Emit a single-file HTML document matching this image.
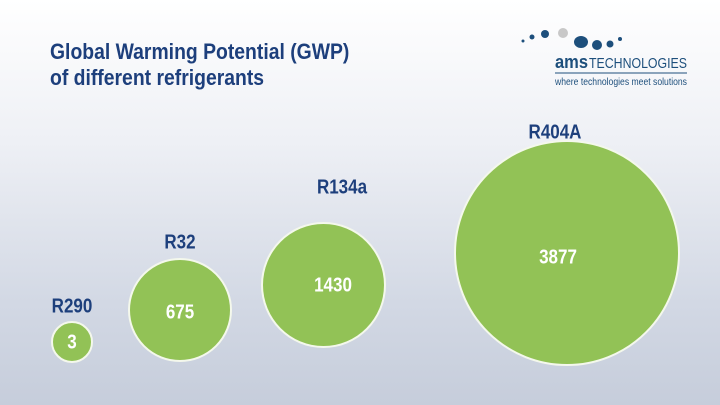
<!DOCTYPE html>
<html><head><style>
body{margin:0;width:720px;height:405px;overflow:hidden;background:linear-gradient(180deg,#ffffff 0%,#eef0f5 35%,#d2d8e4 75%,#c6cddb 100%);font-family:"Liberation Sans",sans-serif;position:relative}
.t{position:absolute;color:#1d3f7c;font-weight:bold;transform-origin:0 0;transform:scaleX(0.88)}
.c{position:absolute;border-radius:50%;background:#92c256;border:2px solid #f4f8ec;box-sizing:border-box}
.l{position:absolute;transform:translate(-50%,-50%) scaleX(0.85);font-weight:bold;font-size:20px;color:#1d3f7c;white-space:nowrap}
.n{position:absolute;transform:translate(-50%,-50%) scaleX(0.85);font-weight:bold;font-size:20px;color:#fff}
</style></head><body>
<div class="t" style="left:50px;top:39px;font-size:22px;line-height:26px">Global Warming Potential (GWP)<br>of different refrigerants</div>
<svg style="position:absolute;left:515px;top:22px" width="180" height="70">
<circle cx="8" cy="19" r="1.5" fill="#1d4f7c"/><circle cx="17" cy="15" r="2.5" fill="#1d4f7c"/><circle cx="30" cy="12" r="4" fill="#1d4f7c"/><circle cx="48" cy="11" r="5" fill="#c8c8c8"/><ellipse cx="66" cy="20" rx="7" ry="6" fill="#1d4f7c"/><circle cx="82" cy="23" r="5" fill="#1d4f7c"/><circle cx="95" cy="22" r="3.5" fill="#1d4f7c"/><circle cx="105" cy="17" r="2" fill="#1d4f7c"/>
<text x="40" y="46" font-family="Liberation Sans" font-weight="bold" font-size="18" fill="#1d4f7c" textLength="33" lengthAdjust="spacingAndGlyphs">ams</text>
<text x="74" y="46" font-family="Liberation Sans" font-size="15" fill="#1d4f7c" textLength="98" lengthAdjust="spacingAndGlyphs">TECHNOLOGIES</text>
<line x1="40" y1="51" x2="172" y2="51" stroke="#1d4f7c" stroke-width="1"/>
<text x="40" y="63" font-family="Liberation Sans" font-size="10" fill="#1d4f7c" textLength="132" lengthAdjust="spacingAndGlyphs">where technologies meet solutions</text>
</svg>
<div class="c" style="left:51px;top:321px;width:42px;height:42px"></div>
<div class="c" style="left:128px;top:258px;width:104px;height:104px"></div>
<div class="c" style="left:261px;top:222px;width:125px;height:126px"></div>
<div class="c" style="left:454px;top:140px;width:226px;height:226px"></div>
<div class="l" style="left:72px;top:307px">R290</div>
<div class="l" style="left:180px;top:243px">R32</div>
<div class="l" style="left:342px;top:188px">R134a</div>
<div class="l" style="left:555px;top:133px">R404A</div>
<div class="n" style="left:72px;top:343px">3</div>
<div class="n" style="left:180px;top:313px">675</div>
<div class="n" style="left:333px;top:286px">1430</div>
<div class="n" style="left:558px;top:258px">3877</div>
</body></html>
